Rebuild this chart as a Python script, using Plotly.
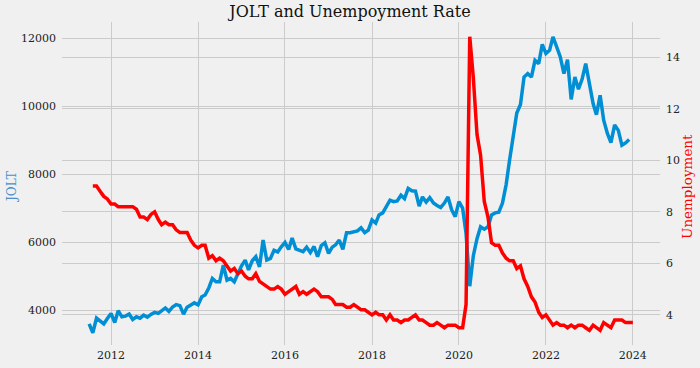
import pandas as pd
import plotly.graph_objects as go

# JOLT job openings (thousands), monthly Jul 2011 .. Dec 2023
jolt_start = "2011-07-01"
jolt = [3590, 3330, 3760, 3660, 3590, 3750, 3900, 3630, 3980, 3800,
        3820, 3880, 3720, 3800, 3760, 3850, 3790, 3870, 3930, 3900,
        3990, 4060, 3960, 4090, 4160, 4130, 3880, 4080, 4150, 4210,
        4150, 4390, 4440, 4650, 4930, 4830, 4830, 5320, 4880, 4930,
        4830, 5080, 5300, 5470, 5180, 5450, 5570, 5270, 6060, 5470,
        5520, 5760, 5710, 5860, 5990, 5780, 6120, 5800, 5770, 5720,
        5850, 5690, 5870, 5570, 5900, 5980, 5670, 5850, 5920, 6060,
        5785, 6275, 6275, 6300, 6330, 6420, 6280, 6350, 6650, 6560,
        6800, 6860, 7040, 7235, 7190, 7210, 7380, 7280, 7580, 7510,
        7500, 7060, 7330, 7180, 7310, 7150, 7080, 7020, 7150, 7330,
        6950, 6750, 7190, 7000, 6250, 4700, 5600, 6100, 6450, 6380,
        6450, 6800, 6860, 6880, 7150, 7700, 8400, 9200, 9800, 10050,
        10860, 10960, 10860, 11350, 11255, 11820, 11550, 11650, 12040, 11750,
        11460, 10960, 11370, 10200, 10860, 10500, 10800, 11255, 10670, 10080,
        9750, 10320, 9590, 9200, 8930, 9450, 9290, 8850, 8920, 9020]

# Unemployment rate (%), monthly Aug 2011 .. Jan 2024
unemp_start = "2011-08-01"
unemp = [9.0, 9.0, 8.8, 8.6, 8.5, 8.3, 8.3, 8.2, 8.2, 8.2,
         8.2, 8.2, 8.1, 7.8, 7.8, 7.7, 7.9, 8.0, 7.7, 7.5,
         7.6, 7.5, 7.5, 7.3, 7.2, 7.2, 7.2, 6.9, 6.7, 6.6,
         6.7, 6.7, 6.2, 6.3, 6.1, 6.2, 6.1, 5.9, 5.7, 5.8,
         5.6, 5.7, 5.5, 5.4, 5.4, 5.6, 5.3, 5.2, 5.1, 5.0,
         5.0, 5.1, 5.0, 4.8, 4.9, 5.0, 5.1, 4.8, 4.9, 4.8,
         4.9, 5.0, 4.9, 4.7, 4.7, 4.7, 4.6, 4.4, 4.4, 4.4,
         4.3, 4.3, 4.4, 4.3, 4.2, 4.2, 4.1, 4.0, 4.1, 4.0,
         4.0, 3.8, 4.0, 3.8, 3.8, 3.7, 3.8, 3.8, 3.9, 4.0,
         3.8, 3.8, 3.7, 3.6, 3.6, 3.7, 3.6, 3.5, 3.6, 3.6,
         3.6, 3.5, 3.5, 4.4, 14.8, 13.2, 11.0, 10.2, 8.4, 7.8,
         6.8, 6.7, 6.7, 6.4, 6.2, 6.1, 6.1, 5.8, 5.9, 5.4,
         5.1, 4.7, 4.5, 4.1, 3.9, 4.0, 3.8, 3.6, 3.7, 3.6,
         3.6, 3.5, 3.6, 3.5, 3.6, 3.6, 3.5, 3.4, 3.6, 3.5,
         3.4, 3.7, 3.6, 3.5, 3.8, 3.8, 3.8, 3.7, 3.7, 3.7]

title = "JOLT and Unempoyment Rate"
left_label = "JOLT"
right_label = "Unemployment"
left_ticks = [4000, 6000, 8000, 10000, 12000]
right_ticks = [4, 6, 8, 10, 12, 14]

jolt_dates = pd.date_range(jolt_start, periods=len(jolt), freq="MS")
unemp_dates = pd.date_range(unemp_start, periods=len(unemp), freq="MS")

FONT = "DejaVu Serif"
GRID = "#cbcbcb"
BG = "#f0f0f0"

fig = go.Figure()
fig.add_trace(go.Scatter(x=jolt_dates, y=jolt, mode="lines",
                         line=dict(color="#008fd5", width=3.5), yaxis="y",
                         showlegend=False))
fig.add_trace(go.Scatter(x=unemp_dates, y=unemp, mode="lines",
                         line=dict(color="#ff0000", width=3.5), yaxis="y2",
                         showlegend=False))

fig.update_layout(
    width=700, height=368,
    margin=dict(l=62, r=40, t=22, b=23, autoexpand=False),
    paper_bgcolor=BG, plot_bgcolor=BG,
    font=dict(family=FONT, size=11, color="#222222"),
    title=dict(text=title, x=0.5, xanchor="center", y=0.97, yanchor="middle",
               font=dict(family=FONT, size=16, color="#111111")),
    xaxis=dict(range=["2010-11-15", "2024-08-16"], type="date",
               tick0="2012-01-01", dtick="M24", tickformat="%Y",
               showgrid=True, gridcolor=GRID, gridwidth=1.3,
               zeroline=False, showline=False, ticks="",
               ticklabelstandoff=2, automargin=False),
    yaxis=dict(range=[2970, 12480], tickvals=left_ticks, tickformat="d",
               showgrid=True, gridcolor=GRID, gridwidth=1.3,
               zeroline=False, showline=False, ticks="",
               ticklabelstandoff=5, automargin=False),
    yaxis2=dict(range=[2.83, 15.37], tickvals=right_ticks, overlaying="y",
                side="right", showgrid=True, gridcolor=GRID, gridwidth=1.3,
                zeroline=False, showline=False, ticks="", tickformat="d",
                ticklabelstandoff=5, automargin=False),
    annotations=[
        dict(text=left_label, xref="paper", yref="paper",
             x=(12 - 62) / 598, y=(345 - 187) / 323, textangle=-90,
             showarrow=False, xanchor="center", yanchor="middle",
             font=dict(family=FONT, size=12, color="#4a8ccc")),
        dict(text=right_label, xref="paper", yref="paper",
             x=(687 - 62) / 598, y=(345 - 187) / 323, textangle=-90,
             showarrow=False, xanchor="center", yanchor="middle",
             font=dict(family=FONT, size=13.5, color="#ff0000")),
    ],
)

fig.write_html(
    "out.html",
    config={"displayModeBar": False},
    post_script="document.body.style.margin='0';document.body.style.padding='0';"
                "document.body.style.background='#f0f0f0';"
                "document.body.style.overflow='hidden';",
)
